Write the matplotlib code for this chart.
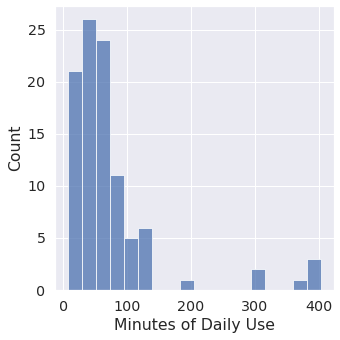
import matplotlib
matplotlib.use("Agg")
import matplotlib.pyplot as plt
import seaborn as sns
import numpy as np

bin_start = 6.8
bin_end = 404.0
n_bins = 18
counts = [21, 26, 24, 11, 5, 6, 0, 0, 1, 0, 0, 0, 0, 2, 0, 0, 1, 3]
xlabel = "Minutes of Daily Use"
ylabel = "Count"

sns.set_theme(style="darkgrid", font_scale=1.3)
fig = plt.figure(figsize=(340/72, 340/72), dpi=72)
ax = fig.add_axes([0.162, 0.147, 0.82, 0.836])
edges = np.linspace(bin_start, bin_end, n_bins + 1)
centers = (edges[:-1] + edges[1:]) / 2
ax.hist(centers, bins=edges, weights=counts, color="#4c72b0", alpha=0.75,
        edgecolor="white", linewidth=1.0)
ax.set_xlabel(xlabel)
ax.set_ylabel(ylabel)
ax.set_xticks([0, 100, 200, 300, 400])
fig.savefig("out.png", dpi=72)
